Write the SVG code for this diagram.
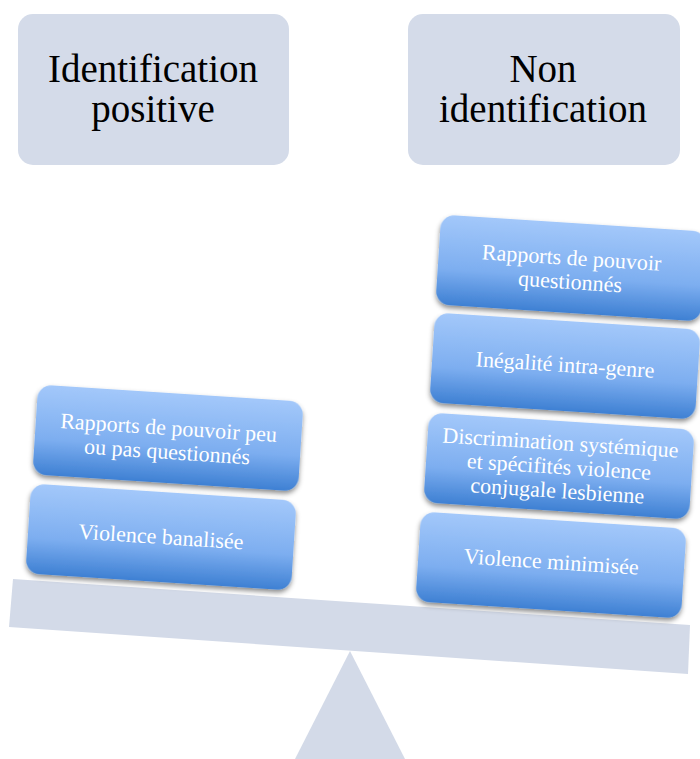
<svg xmlns="http://www.w3.org/2000/svg" width="700" height="759" viewBox="0 0 700 759">
<defs>
<linearGradient id="blockGrad" x1="0" y1="0" x2="0" y2="1">
<stop offset="0" stop-color="#A3C8FA"/>
<stop offset="0.6" stop-color="#7DAEF0"/>
<stop offset="1" stop-color="#3E80D3"/>
</linearGradient>
<filter id="shadow" x="-10%" y="-20%" width="120%" height="150%">
<feDropShadow dx="0" dy="3" stdDeviation="2.5" flood-color="#000" flood-opacity="0.45"/>
</filter>
</defs>
<style>
.head{fill:#D4DBE9}
.headText{font-family:"Liberation Serif","Times New Roman",serif;font-size:39px;fill:#000;text-anchor:middle}
.block{fill:url(#blockGrad);filter:url(#shadow)}
.blockText{font-family:"Liberation Serif","Times New Roman",serif;font-size:22px;fill:#fff;text-anchor:middle}
.balance{fill:#D3DAE8}
</style>
<rect width="700" height="759" fill="#fff"/>
<g id="head-left">
<rect class="head" x="18" y="14" width="271" height="151" rx="15"/>
<text class="headText" x="153" y="82">Identification</text>
<text class="headText" x="153" y="122">positive</text>
</g>
<g id="head-right">
<rect class="head" x="408" y="14" width="272" height="151" rx="15"/>
<text class="headText" x="543" y="82">Non</text>
<text class="headText" x="543" y="122">identification</text>
</g>
<g id="fulcrum">
<polygon class="balance" points="350,651 295,759 405,759"/>
</g>
<g id="beam">
<polygon class="balance" points="13,579 690,625 688,674 9,627"/>
</g>
<g id="connectors"></g>
<g id="left-1" transform="translate(168,438) rotate(3.7)">
<rect class="block" x="-133" y="-45" width="266" height="90" rx="14"/>
<text class="blockText" x="0" y="-3">Rapports de pouvoir peu</text>
<text class="blockText" x="0" y="21">ou pas questionnés</text>
</g>
<g id="left-2" transform="translate(161,537) rotate(3.7)">
<rect class="block" x="-133" y="-45" width="266" height="90" rx="14"/>
<text class="blockText" x="0" y="7">Violence banalisée</text>
</g>
<g id="right-1" transform="translate(571,268) rotate(3.7)">
<rect class="block" x="-133" y="-45" width="266" height="90" rx="14"/>
<text class="blockText" x="0" y="-3">Rapports de pouvoir</text>
<text class="blockText" x="0" y="21">questionnés</text>
</g>
<g id="right-2" transform="translate(565,366) rotate(3.7)">
<rect class="block" x="-133" y="-45" width="266" height="90" rx="14"/>
<text class="blockText" x="0" y="6">Inégalité intra-genre</text>
</g>
<g id="right-3" transform="translate(559,466) rotate(3.7)">
<rect class="block" x="-133" y="-45" width="266" height="90" rx="14"/>
<text class="blockText" x="0" y="-16">Discrimination systémique</text>
<text class="blockText" x="0" y="8">et spécifités violence</text>
<text class="blockText" x="0" y="32">conjugale lesbienne</text>
</g>
<g id="right-4" transform="translate(551,565) rotate(3.7)">
<rect class="block" x="-133" y="-45" width="266" height="90" rx="14"/>
<text class="blockText" x="0" y="4">Violence minimisée</text>
</g>
</svg>
